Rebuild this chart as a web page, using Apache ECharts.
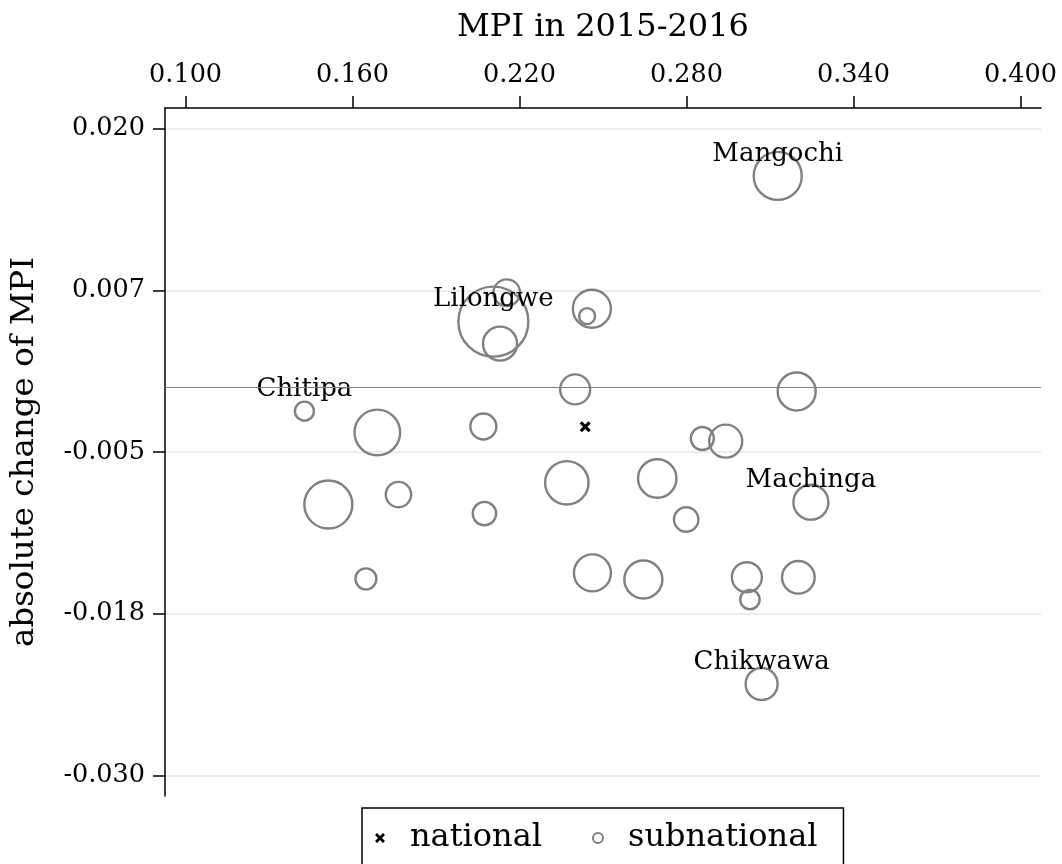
<!DOCTYPE html>
<html>
<head>
<meta charset="utf-8">
<script src="https://cdn.jsdelivr.net/npm/echarts@6/dist/echarts.min.js"></script>
<style>
  html, body { margin: 0; padding: 0; background: #fff; }
  #chart { width: 1062px; height: 864px; }
</style>
</head>
<body>
<div id="chart"></div>
<script>
// MPI level (x), absolute change (y) and population weight for each district
const mpi2015 = [0.2106, 0.2154, 0.2130, 0.2460, 0.2443, 0.1427, 0.1689, 0.2070, 0.2400,
  0.3128, 0.3196, 0.1513, 0.1765, 0.2074, 0.2370, 0.1648, 0.2462, 0.2857, 0.2941,
  0.2695, 0.3247, 0.2799, 0.2645, 0.3017, 0.3028, 0.3202, 0.3070];
const mpiChange = [0.00508, 0.00732, 0.00338, 0.00608, 0.00551, -0.00184, -0.00349, -0.00303, -0.00016,
  0.01635, -0.00032, -0.00906, -0.00829, -0.00976, -0.00738, -0.01481, -0.01435, -0.00396, -0.00416,
  -0.00705, -0.00888, -0.01022, -0.01486, -0.01469, -0.01641, -0.01469, -0.02294];
const popWeight = [1225, 177, 289, 361, 64, 90, 520, 169, 225,
  576, 361, 576, 161, 137, 471, 110, 342, 132, 272,
  369, 306, 149, 361, 225, 94, 266, 256];
const districtLabel = ['Lilongwe', '', '', '', '', 'Chitipa', '', '', '',
  'Mangochi', '', '', '', '', '', '', '', '', '',
  '', 'Machinga', '', '', '', '', '', 'Chikwawa'];
const nationalPoint = [0.2436, -0.00305];

const xTicks = [0.1, 0.16, 0.22, 0.28, 0.34, 0.4];
const xTickLabels = ['0.100', '0.160', '0.220', '0.280', '0.340', '0.400'];
const yTicks = [-0.03, -0.0175, -0.005, 0.0075, 0.02];
const yTickLabels = ['-0.030', '-0.018', '-0.005', '0.007', '0.020'];

const FONT = 'DejaVu Serif';
const crossPath = 'path://M2,0L5,3L8,0L10,2L7,5L10,8L8,10L5,7L2,10L0,8L3,5L0,2Z';

function tickText(ticks, labels) {
  return function (v) {
    const i = ticks.findIndex(t => Math.abs(t - v) < 1e-9);
    return i >= 0 ? labels[i] : '';
  };
}

const subData = mpi2015.map((x, i) => {
  const item = { value: [x, mpiChange[i], popWeight[i]] };
  if (districtLabel[i]) {
    item.label = { show: true, formatter: districtLabel[i] };
  }
  return item;
});

const myChart = echarts.init(document.getElementById('chart'));
const option = {
  animation: false,
  backgroundColor: '#fff',
  textStyle: { fontFamily: FONT },
  grid: { left: 165, top: 108, right: 21, bottom: 68, containLabel: false },
  legend: {
    left: 362,
    top: 808,
    padding: [14, 26, 14, 13],
    borderColor: '#000',
    borderWidth: 1.5,
    borderRadius: 0,
    itemWidth: 20,
    itemHeight: 10,
    itemGap: 50,
    textStyle: { fontFamily: FONT, fontSize: 32, color: '#000', padding: [0, 0, 0, 15] },
    data: [
      { name: 'national', icon: crossPath, itemStyle: { color: '#000', borderWidth: 0, opacity: 1 } },
      { name: 'subnational', icon: 'circle', itemStyle: { color: 'rgba(0,0,0,0)', borderColor: '#808080', borderWidth: 2, opacity: 1 } }
    ]
  },
  xAxis: {
    type: 'value',
    position: 'top',
    min: 0.0926,
    max: 0.4074,
    name: 'MPI in 2015-2016',
    nameLocation: 'middle',
    nameGap: 64,
    nameTextStyle: { fontFamily: FONT, fontSize: 32, color: '#000' },
    axisLine: { show: true, onZero: false, lineStyle: { color: '#000', width: 1.5 } },
    axisTick: { show: true, length: 12, customValues: xTicks, lineStyle: { color: '#000', width: 1.5 } },
    axisLabel: {
      customValues: xTicks,
      margin: 20,
      fontFamily: FONT,
      fontSize: 25.5,
      color: '#000',
      formatter: tickText(xTicks, xTickLabels)
    },
    splitLine: { show: false }
  },
  yAxis: {
    type: 'value',
    min: -0.0316,
    max: 0.0216,
    name: 'absolute change of MPI',
    nameLocation: 'middle',
    nameRotate: 90,
    nameGap: 124,
    nameTextStyle: { fontFamily: FONT, fontSize: 32.5, color: '#000' },
    axisLine: { show: true, onZero: false, lineStyle: { color: '#000', width: 1.5 } },
    axisTick: { show: true, length: 12, customValues: yTicks, lineStyle: { color: '#000', width: 1.5 } },
    axisLabel: {
      customValues: yTicks,
      margin: 20,
      fontFamily: FONT,
      fontSize: 25.5,
      color: '#000',
      formatter: tickText(yTicks, yTickLabels)
    },
    splitLine: { show: true, lineStyle: { color: '#ececec', width: 2 } }
  },
  series: [
    {
      name: 'subnational',
      type: 'scatter',
      symbol: 'circle',
      symbolSize: function (val) { return 2 * Math.sqrt(val[2]); },
      itemStyle: { color: 'rgba(0,0,0,0)', borderColor: '#808080', borderWidth: 2.4, opacity: 1 },
      label: {
        show: false,
        position: 'inside',
        offset: [0, -22],
        fontFamily: FONT,
        fontSize: 26,
        color: '#000',
        opacity: 1,
        textBorderWidth: 0
      },
      emphasis: { disabled: true },
      data: subData,
      markLine: {
        silent: true,
        symbol: ['none', 'none'],
        label: { show: false },
        lineStyle: { color: '#808080', width: 1.2, type: 'solid', opacity: 1 },
        data: [{ yAxis: 0 }]
      },
      z: 2
    },
    {
      name: 'national',
      type: 'scatter',
      symbol: crossPath,
      symbolSize: 11,
      itemStyle: { color: '#000', opacity: 1 },
      emphasis: { disabled: true },
      data: [nationalPoint],
      z: 3
    }
  ]
};
myChart.setOption(option);
</script>
</body>
</html>
